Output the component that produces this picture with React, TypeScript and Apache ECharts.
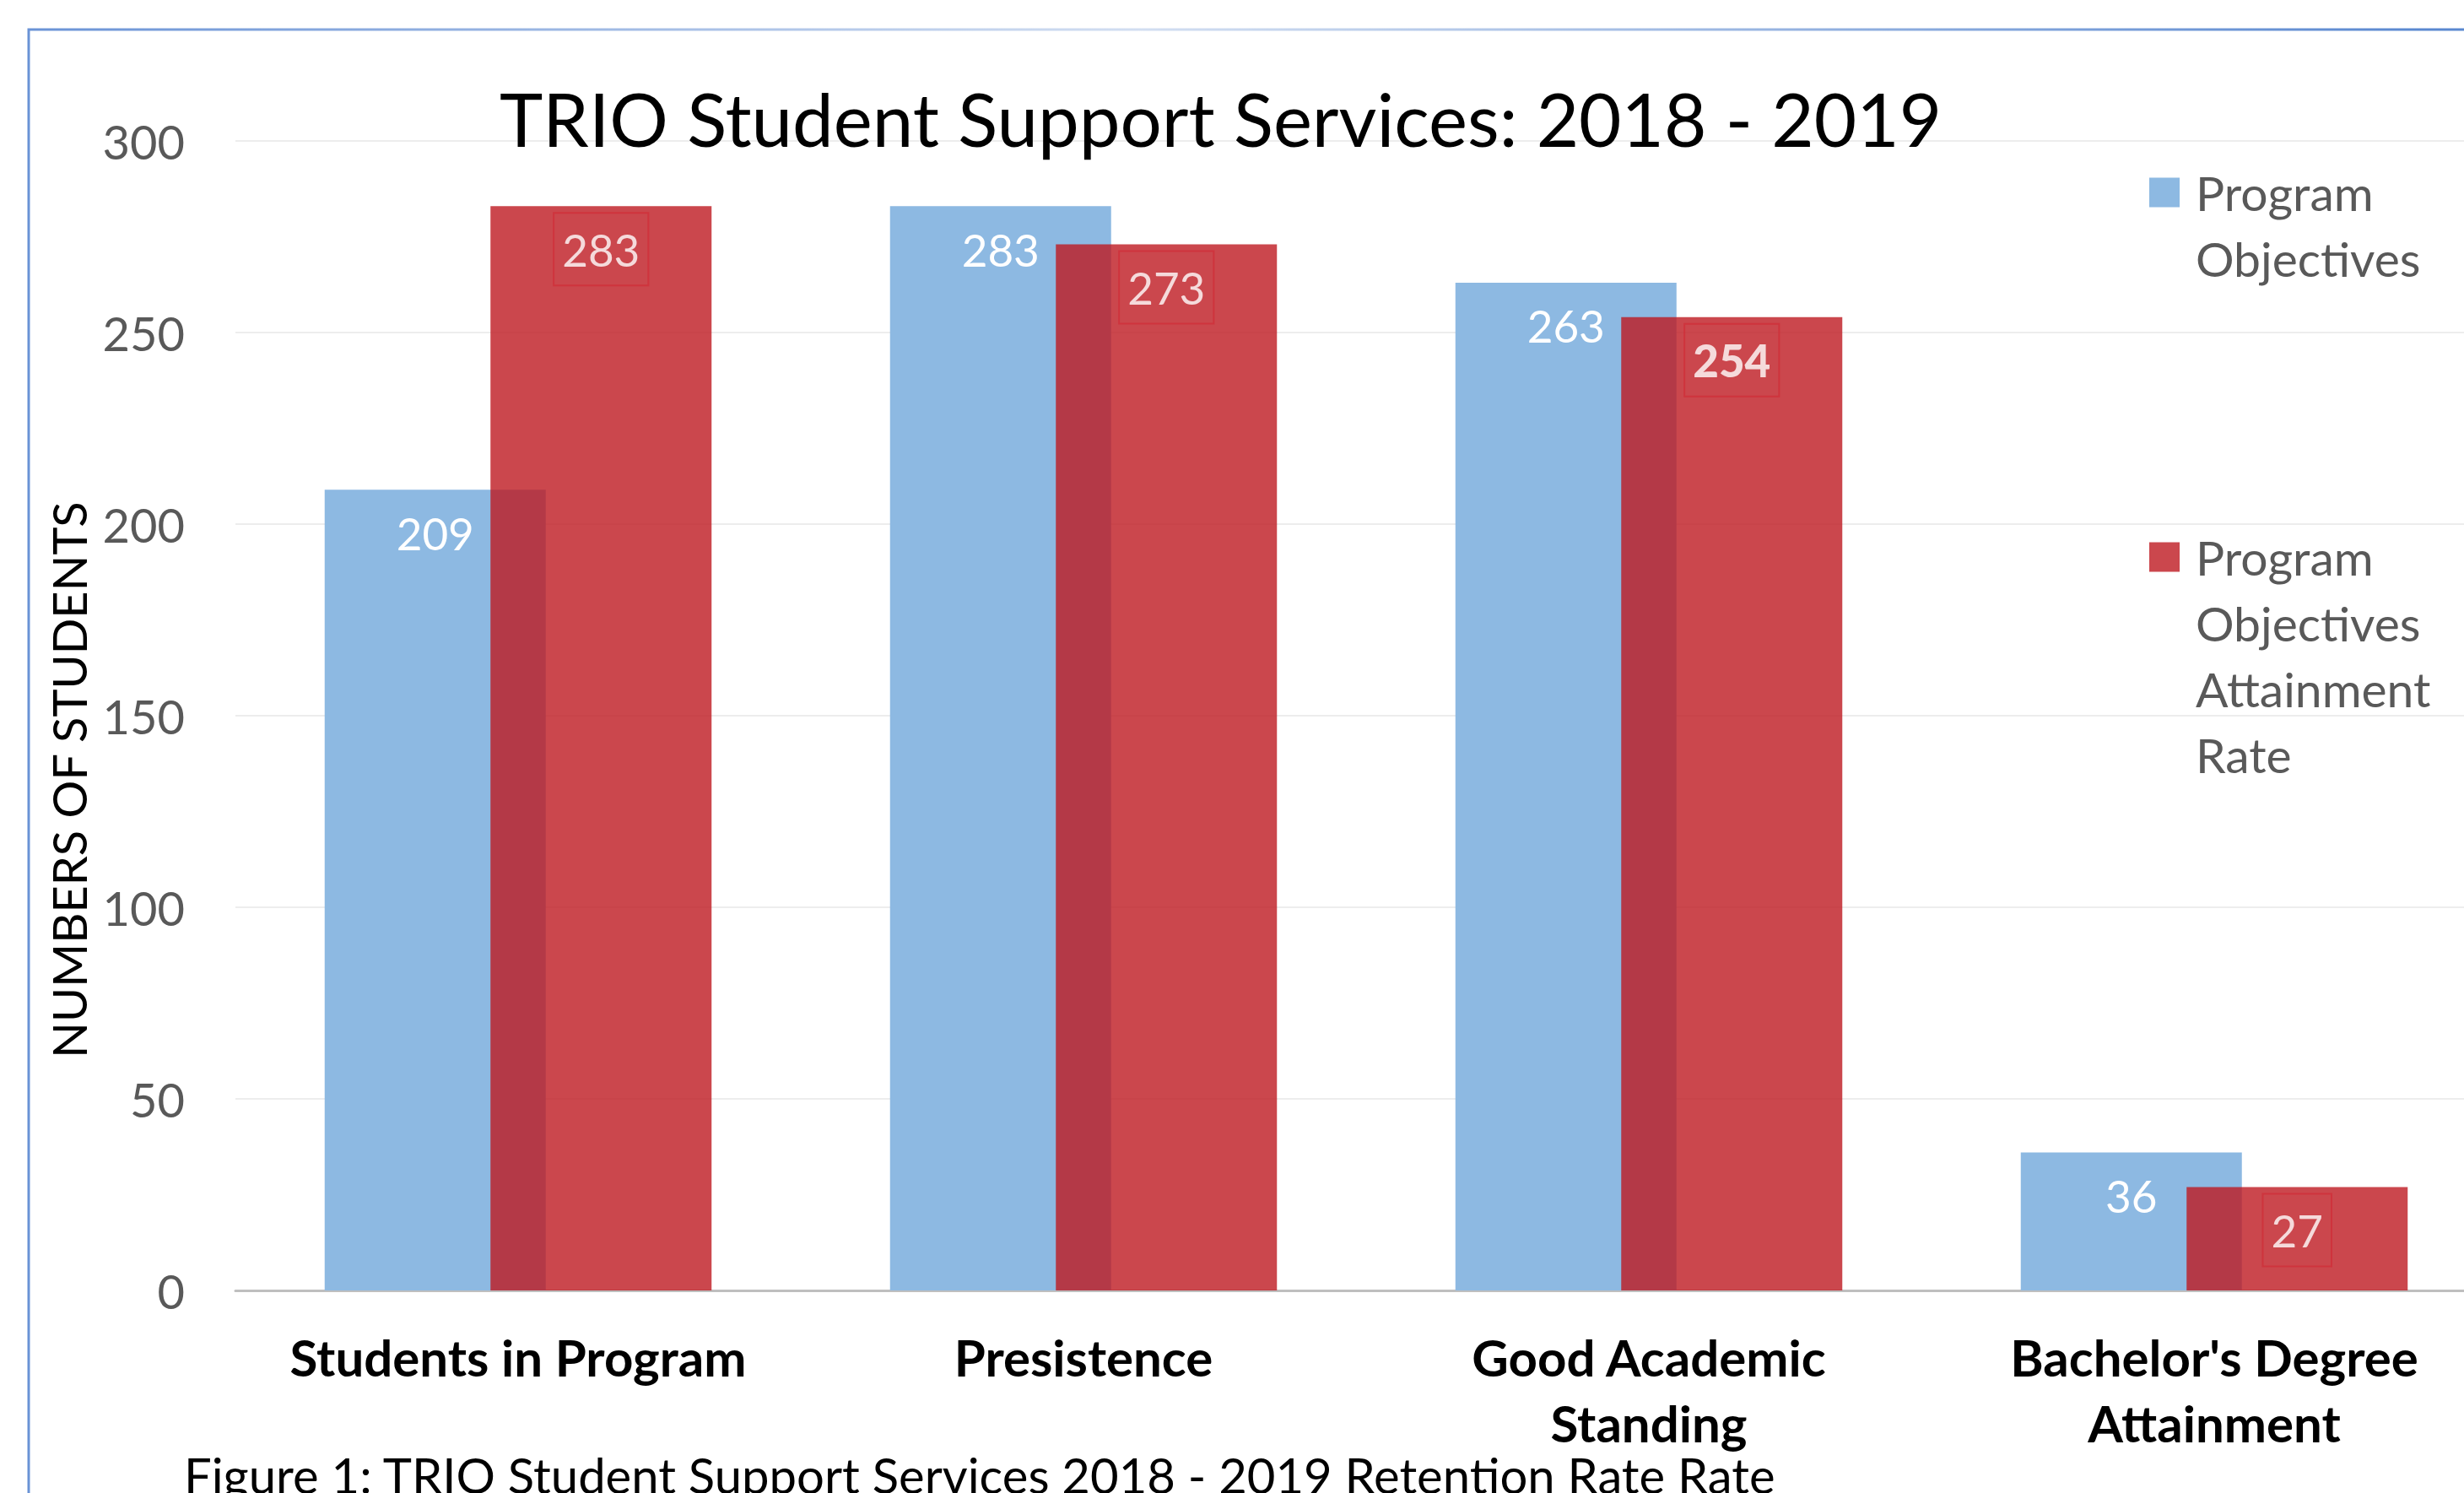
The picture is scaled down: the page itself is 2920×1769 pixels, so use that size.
import React, { useEffect, useRef } from "react";
import * as echarts from "echarts";

const titleText = "TRIO Student Support Services: 2018 - 2019";
const captionText = "Figure 1: TRIO Student Support Services 2018 - 2019 Retention Rate Rate";
const axisNameText = "NUMBERS OF STUDENTS";
const categories = [
  "Students in Program",
  "Presistence",
  "Good Academic\nStanding",
  "Bachelor's Degree\nAttainment",
];
const seriesNames = ["Program Objectives", "Program Objectives Attainment Rate"];
const legendLines = [
  ["Program", "Objectives"],
  ["Program", "Objectives", "Attainment", "Rate"],
];
const objectives = [209, 283, 263, 36];
const attainment = [283, 273, 254, 27];
const boldAttainmentIndex = 2;
const yMin = 0;
const yMax = 300;
const yStep = 50;

const FONT = "Lato, 'Open Sans', sans-serif";

// Lines are centred on the legend icon; leading blank lines put the first line level with it.
const legendText = (lines: string[]) =>
  new Array(lines.length - 1).fill("").concat(lines).join("\n");

export default function App() {
  const ref = useRef<HTMLDivElement>(null);

  useEffect(() => {
    if (!ref.current) return;
    const chart = echarts.init(ref.current, null, { renderer: "svg" });

    const dataLabel = {
      show: true,
      position: "insideTop",
      distance: 8,
      color: "#ffffff",
      fontSize: 53,
      fontFamily: FONT,
      lineHeight: 60,
      padding: [13, 10],
    };

    const legendBase = {
      orient: "vertical",
      left: 2547,
      padding: 0,
      itemWidth: 36,
      itemHeight: 35,
      icon: "rect",
      selectedMode: false,
    };
    const legendTextStyle = {
      fontSize: 57,
      lineHeight: 78,
      color: "#595959",
      fontFamily: FONT,
      padding: [0, 0, 0, 14],
    };

    const option: any = {
      animation: false,
      backgroundColor: "#ffffff",
      textStyle: { fontFamily: FONT },
      title: [
        {
          text: titleText,
          left: 592,
          top: 90,
          padding: 0,
          textStyle: {
            fontSize: 87,
            lineHeight: 100,
            fontWeight: "normal",
            color: "#000000",
            fontFamily: FONT,
          },
        },
        {
          text: captionText,
          left: 218,
          top: 1727,
          padding: 0,
          textStyle: {
            fontSize: 58,
            lineHeight: 40,
            fontWeight: "normal",
            color: "#000000",
            fontFamily: FONT,
          },
        },
      ],
      legend: [
        {
          ...legendBase,
          data: [seriesNames[0]],
          top: 111,
          formatter: () => legendText(legendLines[0]),
          textStyle: legendTextStyle,
        },
        {
          ...legendBase,
          data: [seriesNames[1]],
          top: 387,
          formatter: () => legendText(legendLines[1]),
          textStyle: legendTextStyle,
        },
      ],
      grid: { left: 279, right: 1, top: 167, bottom: 240, containLabel: false },
      xAxis: {
        type: "category",
        data: categories,
        axisLine: { show: true, lineStyle: { color: "#BFBFBF", width: 3 } },
        axisTick: { show: false },
        axisLabel: {
          interval: 0,
          margin: 40,
          fontSize: 60,
          lineHeight: 78,
          fontWeight: "bold",
          color: "#000000",
          fontFamily: FONT,
        },
      },
      yAxis: {
        type: "value",
        min: yMin,
        max: yMax,
        interval: yStep,
        name: axisNameText,
        nameLocation: "middle",
        nameGap: 170,
        nameTextStyle: {
          fontSize: 56,
          lineHeight: 56,
          color: "#000000",
          fontFamily: FONT,
          padding: [0, 152, 0, 0],
        },
        axisLine: { show: false },
        axisTick: { show: false },
        axisLabel: {
          margin: 60,
          fontSize: 56,
          color: "#595959",
          fontFamily: FONT,
        },
        splitLine: { show: true, lineStyle: { color: "#EDEDED", width: 2 } },
      },
      series: [
        {
          name: seriesNames[0],
          type: "bar",
          data: objectives,
          barWidth: 262,
          barGap: "-25%",
          itemStyle: { color: "#8DB9E2" },
          label: dataLabel,
          z: 2,
        },
        {
          name: seriesNames[1],
          type: "bar",
          data: attainment.map((v, i) =>
            i === boldAttainmentIndex
              ? { value: v, label: { fontWeight: 900 } }
              : v
          ),
          barWidth: 262,
          barGap: "-25%",
          itemStyle: { color: "rgb(190,25,33)", opacity: 0.8 },
          label: { ...dataLabel, borderColor: "#D0303A", borderWidth: 2 },
          z: 3,
        },
      ],
      graphic: [
        {
          type: "rect",
          silent: true,
          z: -10,
          shape: { x: 34, y: 35, width: 2930, height: 2000 },
          style: {
            fill: "none",
            lineWidth: 3,
            stroke: new echarts.graphic.LinearGradient(0, 0, 1, 0, [
              { offset: 0, color: "#6A93D6" },
              { offset: 0.45, color: "#D2DEF1" },
              { offset: 0.97, color: "#5A88D0" },
              { offset: 1, color: "#5A88D0" },
            ]),
          },
        },
      ],
    };

    chart.setOption(option);
    return () => chart.dispose();
  }, []);

  return (
    <div
      style={{
        position: "fixed",
        left: 0,
        top: 0,
        width: 2920,
        height: 1769,
        overflow: "hidden",
        background: "#ffffff",
      }}
    >
      <div ref={ref} style={{ width: 2960, height: 1769 }} />
    </div>
  );
}
